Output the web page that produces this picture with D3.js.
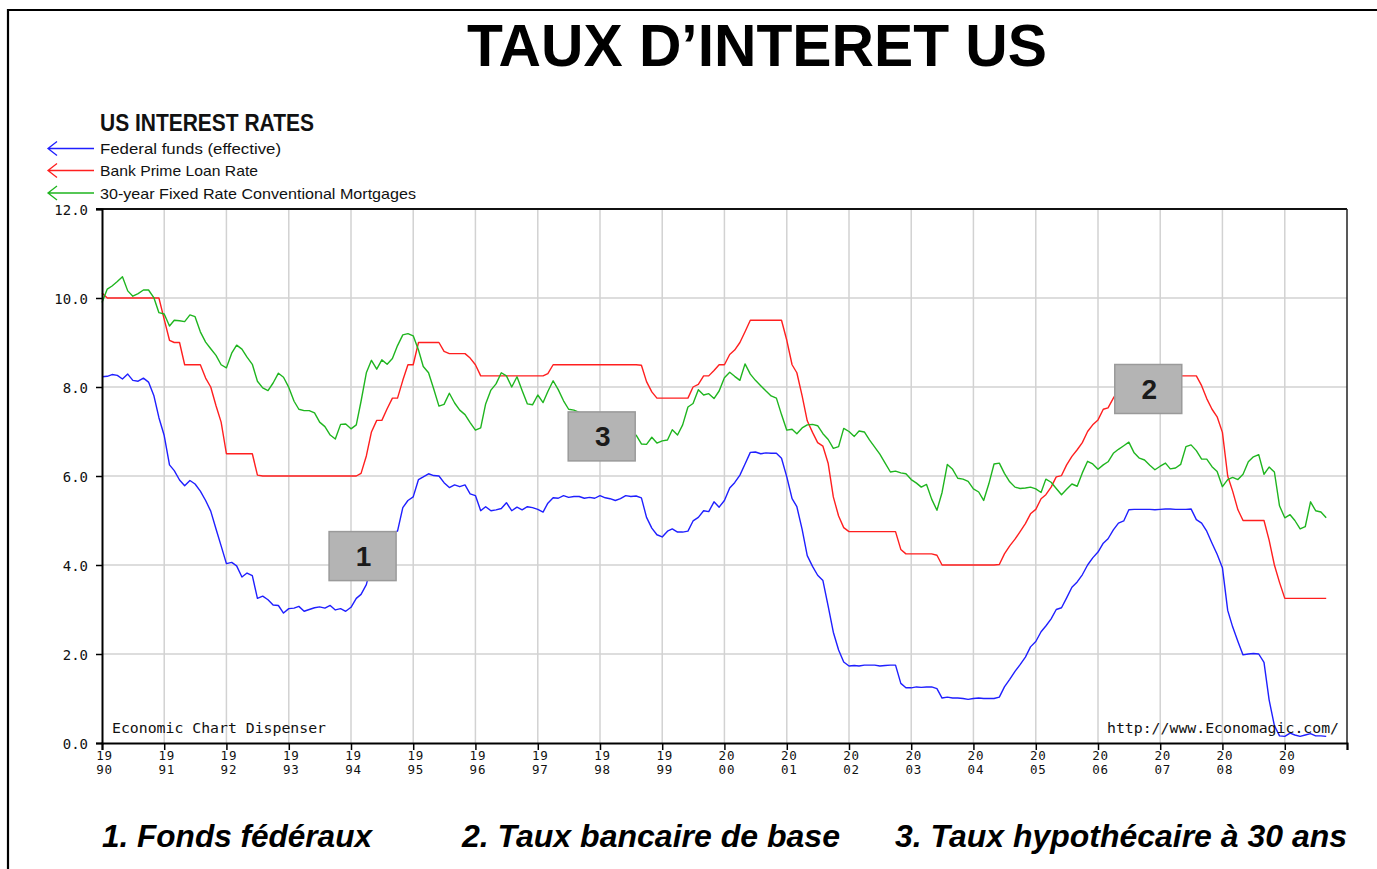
<!DOCTYPE html>
<html>
<head>
<meta charset="utf-8">
<script src="https://cdn.jsdelivr.net/npm/d3@7"></script>
<style>
  html, body { margin: 0; padding: 0; background: #fff; }
  svg { display: block; }
</style>
</head>
<body>
<svg id="chart" width="1377" height="869"></svg>
<script>
// ---------------- DATA (monthly, Jan 1990 .. Sep 2009) ----------------
const startYear = 1990;
const yearTicks = [1990,1991,1992,1993,1994,1995,1996,1997,1998,1999,2000,2001,2002,2003,2004,2005,2006,2007,2008,2009,2010];
const yTicks = [0, 2, 4, 6, 8, 10, 12];

const fedFunds = [
  8.23,8.24,8.28,8.26,8.18,8.29,8.15,8.13,8.20,8.11,7.81,7.31,
  6.91,6.25,6.12,5.91,5.78,5.90,5.82,5.66,5.45,5.21,4.81,4.43,
  4.03,4.06,3.98,3.73,3.82,3.76,3.25,3.30,3.22,3.10,3.09,2.92,
  3.02,3.03,3.07,2.96,3.00,3.04,3.06,3.03,3.09,2.99,3.02,2.96,
  3.05,3.25,3.34,3.56,4.01,4.25,4.26,4.47,4.73,4.76,5.29,5.45,
  5.53,5.92,5.98,6.05,6.01,6.00,5.85,5.74,5.80,5.76,5.80,5.60,
  5.56,5.22,5.31,5.22,5.24,5.27,5.40,5.22,5.30,5.24,5.31,5.29,
  5.25,5.19,5.39,5.51,5.50,5.56,5.52,5.54,5.54,5.50,5.52,5.50,
  5.56,5.51,5.49,5.45,5.49,5.56,5.54,5.55,5.51,5.07,4.83,4.68,
  4.63,4.76,4.81,4.74,4.74,4.76,4.99,5.07,5.22,5.20,5.42,5.30,
  5.45,5.73,5.85,6.02,6.27,6.53,6.54,6.50,6.52,6.51,6.51,6.40,
  5.98,5.49,5.31,4.80,4.21,3.97,3.77,3.65,3.07,2.49,2.09,1.82,
  1.73,1.74,1.73,1.75,1.75,1.75,1.73,1.74,1.75,1.75,1.34,1.24,
  1.24,1.26,1.25,1.26,1.26,1.22,1.01,1.03,1.01,1.01,1.00,0.98,
  1.00,1.01,1.00,1.00,1.00,1.03,1.26,1.43,1.61,1.76,1.93,2.16,
  2.28,2.50,2.63,2.79,3.00,3.04,3.26,3.50,3.62,3.78,4.00,4.16,
  4.29,4.49,4.59,4.79,4.94,4.99,5.24,5.25,5.25,5.25,5.25,5.24,
  5.25,5.26,5.26,5.25,5.25,5.25,5.26,5.02,4.94,4.76,4.49,4.24,
  3.94,2.98,2.61,2.28,1.98,2.00,2.01,2.00,1.81,0.97,0.39,0.16,
  0.15,0.22,0.18,0.15,0.18,0.21,0.16,0.16,0.15
];

const primeRate = [
  10.11,10.00,10.00,10.00,10.00,10.00,10.00,10.00,10.00,10.00,10.00,10.00,
  9.52,9.05,9.00,9.00,8.50,8.50,8.50,8.50,8.20,8.00,7.58,7.21,
  6.50,6.50,6.50,6.50,6.50,6.50,6.02,6.00,6.00,6.00,6.00,6.00,
  6.00,6.00,6.00,6.00,6.00,6.00,6.00,6.00,6.00,6.00,6.00,6.00,
  6.00,6.00,6.06,6.45,6.99,7.25,7.25,7.51,7.75,7.75,8.15,8.50,
  8.50,9.00,9.00,9.00,9.00,9.00,8.80,8.75,8.75,8.75,8.75,8.65,
  8.50,8.25,8.25,8.25,8.25,8.25,8.25,8.25,8.25,8.25,8.25,8.25,
  8.25,8.25,8.30,8.50,8.50,8.50,8.50,8.50,8.50,8.50,8.50,8.50,
  8.50,8.50,8.50,8.50,8.50,8.50,8.50,8.50,8.49,8.12,7.89,7.75,
  7.75,7.75,7.75,7.75,7.75,7.75,8.00,8.06,8.25,8.25,8.37,8.50,
  8.50,8.73,8.83,9.00,9.24,9.50,9.50,9.50,9.50,9.50,9.50,9.50,
  9.05,8.50,8.32,7.80,7.24,6.98,6.75,6.67,6.28,5.53,5.10,4.84,
  4.75,4.75,4.75,4.75,4.75,4.75,4.75,4.75,4.75,4.75,4.35,4.25,
  4.25,4.25,4.25,4.25,4.25,4.22,4.00,4.00,4.00,4.00,4.00,4.00,
  4.00,4.00,4.00,4.00,4.00,4.01,4.25,4.43,4.58,4.75,4.93,5.15,
  5.25,5.49,5.58,5.75,5.98,6.01,6.25,6.44,6.59,6.75,7.00,7.15,
  7.26,7.50,7.53,7.75,7.93,8.02,8.25,8.25,8.25,8.25,8.25,8.25,
  8.25,8.25,8.25,8.25,8.25,8.25,8.25,8.25,8.03,7.74,7.50,7.33,
  6.98,6.00,5.66,5.24,5.00,5.00,5.00,5.00,5.00,4.56,4.00,3.61,
  3.25,3.25,3.25,3.25,3.25,3.25,3.25,3.25,3.25
];

const mortgage30 = [
  9.90,10.20,10.27,10.37,10.48,10.16,10.04,10.10,10.18,10.18,10.01,9.67,
  9.64,9.37,9.50,9.49,9.47,9.62,9.58,9.24,9.01,8.86,8.71,8.50,
  8.43,8.76,8.94,8.85,8.67,8.51,8.13,7.98,7.92,8.09,8.31,8.22,
  7.99,7.68,7.50,7.47,7.47,7.42,7.21,7.11,6.92,6.83,7.16,7.17,
  7.06,7.15,7.68,8.32,8.60,8.40,8.61,8.51,8.64,8.93,9.17,9.20,
  9.15,8.83,8.46,8.32,7.96,7.57,7.61,7.86,7.64,7.48,7.38,7.20,
  7.03,7.08,7.62,7.93,8.07,8.32,8.25,8.00,8.23,7.92,7.62,7.60,
  7.82,7.65,7.90,8.14,7.94,7.69,7.50,7.48,7.43,7.29,7.21,7.10,
  6.99,7.04,7.13,7.14,7.14,7.00,6.95,6.92,6.72,6.71,6.87,6.74,
  6.79,6.81,7.04,6.92,7.15,7.55,7.63,7.94,7.82,7.85,7.74,7.91,
  8.21,8.33,8.24,8.15,8.52,8.29,8.15,8.03,7.91,7.80,7.75,7.38,
  7.03,7.05,6.95,7.08,7.15,7.16,7.13,6.95,6.82,6.62,6.66,7.07,
  7.00,6.89,7.01,6.99,6.81,6.65,6.49,6.29,6.09,6.11,6.07,6.05,
  5.92,5.84,5.75,5.81,5.48,5.23,5.63,6.26,6.15,5.95,5.93,5.88,
  5.71,5.64,5.45,5.83,6.27,6.29,6.06,5.87,5.75,5.72,5.73,5.75,
  5.71,5.63,5.93,5.86,5.72,5.58,5.70,5.82,5.77,6.07,6.33,6.27,
  6.15,6.25,6.32,6.51,6.60,6.68,6.76,6.52,6.40,6.36,6.24,6.14,
  6.22,6.29,6.16,6.18,6.26,6.66,6.70,6.57,6.38,6.38,6.21,6.10,
  5.76,5.92,5.97,5.92,6.04,6.32,6.43,6.48,6.04,6.20,6.09,5.33,
  5.06,5.13,5.00,4.81,4.86,5.42,5.22,5.19,5.06
];

const seriesNames = ["Federal funds (effective)", "Bank Prime Loan Rate", "30-year Fixed Rate Conventional Mortgages"];
const seriesColors = ["#1f1fff", "#ff1f1f", "#1fb51f"];
const seriesData = [fedFunds, primeRate, mortgage30];

const callouts = [
  {label: "1", date: [1994, 2, 10], value: 4.20},
  {label: "3", date: [1998, 0, 11], value: 6.89},
  {label: "2", date: [2006, 9, 23], value: 7.955}
];
const footerLabels = ["1. Fonds fédéraux", "2. Taux bancaire de base", "3. Taux hypothécaire à 30 ans"];

// ---------------- LAYOUT ----------------
const svg = d3.select("#chart");
const L = 102, R = 1347, T = 209, B = 743;
const mono = "'DejaVu Sans Mono', 'Liberation Mono', monospace";

const x = d3.scaleTime()
  .domain([new Date(yearTicks[0], 0, 1), new Date(yearTicks[yearTicks.length - 1], 0, 1)])
  .range([L, R]);
const y = d3.scaleLinear().domain([0, 12]).range([B, T]);
const monthDate = i => new Date(startYear, i, 1);

// outer frame (top + left)
svg.append("path").attr("d", "M8,869 L8,10 L1377,10")
  .attr("fill", "none").attr("stroke", "#000").attr("stroke-width", 2.2);

// title
svg.append("text").attr("x", 757).attr("y", 66)
  .attr("text-anchor", "middle")
  .style("font-family", "'Liberation Sans', Arial, sans-serif")
  .style("font-weight", "bold").style("font-size", "60px")
  .attr("textLength", 580).attr("lengthAdjust", "spacingAndGlyphs")
  .text("TAUX D\u2019INTERET US");

// gridlines
const grid = svg.append("g");
grid.selectAll("line.v").data(yearTicks.slice(1, -1)).join("line")
  .attr("x1", d => x(new Date(d, 0, 1))).attr("x2", d => x(new Date(d, 0, 1)))
  .attr("y1", T).attr("y2", B)
  .attr("stroke", "#d2d2d2").attr("stroke-width", 1.5);
grid.selectAll("line.h").data(yTicks.slice(1, -1)).join("line")
  .attr("x1", L).attr("x2", R)
  .attr("y1", d => y(d)).attr("y2", d => y(d))
  .attr("stroke", "#d2d2d2").attr("stroke-width", 1.5);

// lines
const line = d3.line().x((d, i) => x(monthDate(i))).y(d => y(d));
svg.append("g").selectAll("path").data(seriesData).join("path")
  .attr("d", d => line(d))
  .attr("fill", "none")
  .attr("stroke", (d, i) => seriesColors[i])
  .attr("stroke-width", 1.4)
  .attr("stroke-linejoin", "round");

// frame: top and right
svg.append("line").attr("x1", L - 6).attr("x2", R).attr("y1", T).attr("y2", T)
  .attr("stroke", "#111").attr("stroke-width", 2);
svg.append("line").attr("x1", R).attr("x2", R).attr("y1", T).attr("y2", B)
  .attr("stroke", "#222").attr("stroke-width", 1.5);

// y axis
const yAxis = svg.append("g").attr("transform", `translate(${L},0)`)
  .call(d3.axisLeft(y).tickValues(yTicks).tickSize(6).tickPadding(8).tickFormat(d3.format(".1f")));
yAxis.select(".domain").attr("stroke", "#000").attr("stroke-width", 2);
yAxis.selectAll(".tick line").attr("stroke", "#000").attr("stroke-width", 1.5);
yAxis.selectAll(".tick text").style("font-family", mono).style("font-size", "14px")
  .attr("fill", "#111").attr("dy", "0.36em");

// x axis
const xAxis = svg.append("g").attr("transform", `translate(0,${B})`)
  .call(d3.axisBottom(x).tickValues(yearTicks.map(d => new Date(d, 0, 1))).tickSize(7).tickFormat(""));
xAxis.select(".domain").attr("stroke", "#000").attr("stroke-width", 2);
xAxis.selectAll(".tick line").attr("stroke", "#000").attr("stroke-width", 1.5);
xAxis.selectAll(".tick").filter(d => d.getFullYear() < 2010).each(function(d) {
  const s = String(d.getFullYear());
  const g = d3.select(this);
  [s.slice(0, 2), s.slice(2)].forEach((part, k) => {
    g.append("text")
      .attr("x", 2).attr("y", 16.5 + k * 14)
      .attr("fill", "#111").attr("text-anchor", "middle")
      .style("font-family", mono).style("font-size", "12.5px")
      .style("letter-spacing", "0.8px")
      .text(part);
  });
});

// credits inside plot
svg.append("text").attr("x", 112).attr("y", 733)
  .style("font-family", mono).style("font-size", "14px").attr("fill", "#111")
  .attr("textLength", 214).attr("lengthAdjust", "spacingAndGlyphs")
  .text("Economic Chart Dispenser");
svg.append("text").attr("x", 1339).attr("y", 733).attr("text-anchor", "end")
  .style("font-family", mono).style("font-size", "14px").attr("fill", "#111")
  .attr("textLength", 232).attr("lengthAdjust", "spacingAndGlyphs")
  .text("http://www.Economagic.com/");

// legend
svg.append("text").attr("x", 100).attr("y", 131)
  .style("font-family", "'Liberation Sans', Arial, sans-serif")
  .style("font-weight", "bold").style("font-size", "23px").attr("fill", "#111")
  .attr("textLength", 214).attr("lengthAdjust", "spacingAndGlyphs")
  .text("US INTEREST RATES");
const legendW = [181, 158, 316];
const legendY = [148.5, 170.5, 193];
const lg = svg.append("g").selectAll("g").data(seriesNames).join("g")
  .attr("transform", (d, i) => `translate(0,${legendY[i]})`);
lg.append("path").attr("d", "M57,-7 L48,0 L57,7 M48,0 L94,0")
  .attr("fill", "none").attr("stroke", (d, i) => seriesColors[i]).attr("stroke-width", 1.3);
lg.append("text").attr("x", 100).attr("y", 5.5)
  .style("font-family", "'Liberation Sans', Arial, sans-serif").style("font-size", "15px")
  .attr("fill", "#111")
  .attr("textLength", (d, i) => legendW[i]).attr("lengthAdjust", "spacingAndGlyphs")
  .text(d => d);

// callout boxes
const cb = svg.append("g").selectAll("g").data(callouts).join("g")
  .attr("transform", d => `translate(${x(new Date(d.date[0], d.date[1], d.date[2]))},${y(d.value)})`);
cb.append("rect").attr("x", -33.5).attr("y", -24.5).attr("width", 67).attr("height", 49)
  .attr("fill", "#b4b4b4").attr("stroke", "#9a9a9a").attr("stroke-width", 1.5);
cb.append("text").attr("x", 1).attr("y", 10).attr("text-anchor", "middle")
  .style("font-family", "'Liberation Sans', Arial, sans-serif")
  .style("font-weight", "bold").style("font-size", "28px").attr("fill", "#1a1a1a")
  .text(d => d.label);

// footer
const footX = [102, 462, 895];
const footW = [270, 378, 452];
svg.append("g").selectAll("text").data(footerLabels).join("text")
  .attr("x", (d, i) => footX[i]).attr("y", 847)
  .style("font-family", "'Liberation Sans', Arial, sans-serif")
  .style("font-weight", "bold").style("font-style", "italic").style("font-size", "31px")
  .attr("fill", "#000")
  .attr("textLength", (d, i) => footW[i]).attr("lengthAdjust", "spacingAndGlyphs")
  .text(d => d);
</script>
</body>
</html>
